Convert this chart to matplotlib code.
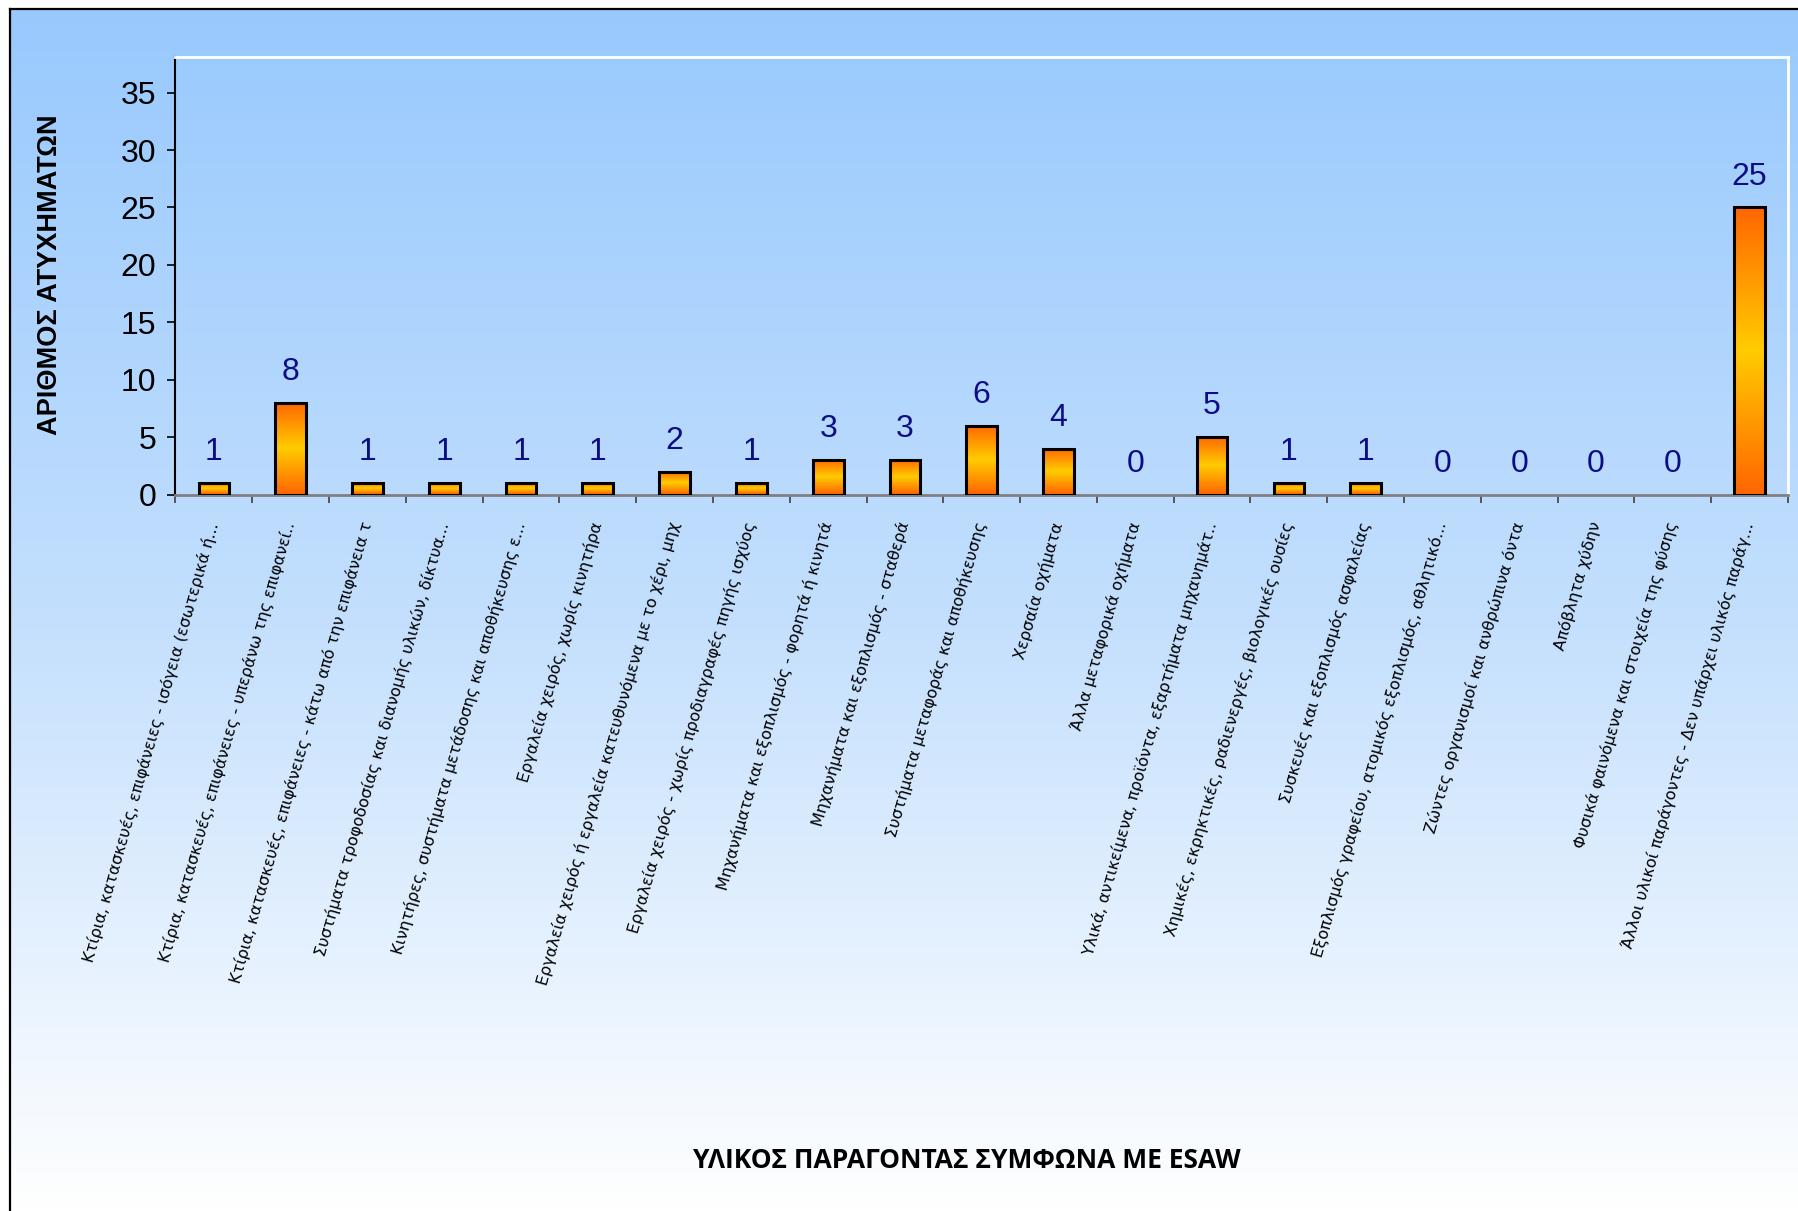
import numpy as np
import matplotlib
matplotlib.use("Agg")
import matplotlib.pyplot as plt
from matplotlib.colors import LinearSegmentedColormap
from matplotlib.lines import Line2D

categories = [
    "Κτίρια, κατασκευές, επιφάνειες - ισόγεια (εσωτερικά ή...",
    "Κτίρια, κατασκευές, επιφάνειες - υπεράνω της επιφανεί..",
    "Κτίρια, κατασκευές, επιφάνειες - κάτω από την επιφάνεια τ",
    "Συστήματα τροφοδοσίας και διανομής υλικών, δίκτυα...",
    "Κινητήρες, συστήματα μετάδοσης και αποθήκευσης ε...",
    "Εργαλεία χειρός, χωρίς κινητήρα",
    "Εργαλεία χειρός ή εργαλεία κατευθυνόμενα με το χέρι, μηχ",
    "Εργαλεία χειρός - χωρίς προδιαγραφές πηγής ισχύος",
    "Μηχανήματα και εξοπλισμός - φορητά ή κινητά",
    "Μηχανήματα και εξοπλισμός - σταθερά",
    "Συστήματα μεταφοράς και αποθήκευσης",
    "Χερσαία οχήματα",
    "Άλλα μεταφορικά οχήματα",
    "Υλικά, αντικείμενα, προϊόντα, εξαρτήματα μηχανημάτ..",
    "Χημικές, εκρηκτικές, ραδιενεργές, βιολογικές ουσίες",
    "Συσκευές και εξοπλισμός ασφαλείας",
    "Εξοπλισμός γραφείου, ατομικός εξοπλισμός, αθλητικό...",
    "Ζώντες οργανισμοί και ανθρώπινα όντα",
    "Απόβλητα χύδην",
    "Φυσικά φαινόμενα και στοιχεία της φύσης",
    "Άλλοι υλικοί παράγοντες - Δεν υπάρχει υλικός παράγ...",
]
accidents = [1, 8, 1, 1, 1, 1, 2, 1, 3, 3, 6, 4, 0, 5, 1, 1, 0, 0, 0, 0, 25]
y_ticks = [0, 5, 10, 15, 20, 25, 30, 35]

W, H = 1799, 1211
fig = plt.figure(figsize=(W / 100, H / 100), dpi=100, facecolor="white")

# background gradient inside the frame
bg = fig.add_axes([10 / W, 0, 1 - 10 / W, 1 - 9 / H], zorder=-10)
bg_cmap = LinearSegmentedColormap.from_list("bg", ["#98c9fd", "#c3dffd", "#ffffff"])
bg.imshow(np.linspace(0, 1, 256).reshape(-1, 1), cmap=bg_cmap, aspect="auto",
          extent=(0, 1, 0, 1), origin="upper")
bg.set_axis_off()
fig.add_artist(Line2D([10 / W, 10 / W], [0, 1 - 9 / H], color="black", lw=1.6,
                      transform=fig.transFigure))
fig.add_artist(Line2D([10 / W, 1], [1 - 9 / H, 1 - 9 / H], color="black", lw=1.6,
                      transform=fig.transFigure))

ax = fig.add_axes([175.5 / W, 1 - 494.5 / H, (1788 - 175.5) / W, (494.5 - 57) / H])
ax.patch.set_alpha(0)

x = np.arange(len(categories))
bar_w = 0.40
bars = ax.bar(x, accidents, width=bar_w, facecolor="none", edgecolor="black",
              linewidth=2.2, zorder=3)

bar_cmap = LinearSegmentedColormap.from_list("bar", ["#ff6600", "#ffcc00", "#ff6600"])
grad = np.linspace(0, 1, 200).reshape(-1, 1)
for rect, v in zip(bars, accidents):
    if v == 0:
        rect.set_visible(False)
        continue
    x0 = rect.get_x()
    ax.imshow(grad, cmap=bar_cmap, aspect="auto", origin="lower",
              extent=(x0, x0 + bar_w, 0, v), zorder=2)

for xi, v in zip(x, accidents):
    ax.annotate(str(v), (xi, v), xytext=(0, 16.5), textcoords="offset points",
                ha="center", va="baseline", fontsize=23, color="#0d0d85",
                family="Liberation Sans")

ax.set_xlim(-0.5, len(categories) - 0.5)
ax.set_ylim(0, 38.1)

ax.set_yticks(y_ticks)
ax.set_yticklabels([str(t) for t in y_ticks], fontsize=23, family="Liberation Sans")
ax.tick_params(axis="y", direction="out", length=6, width=1.2, pad=8, color="black")

ax.set_xticks(x)
ax.set_xticklabels(categories, rotation=74, ha="right", va="center",
                   rotation_mode="anchor", fontsize=11.5, family="DejaVu Sans")
ax.set_xticks(np.arange(len(categories) + 1) - 0.5, minor=True)
ax.tick_params(axis="x", which="major", length=0, pad=20)
ax.tick_params(axis="x", which="minor", direction="out", length=6, width=1.2,
               color="#404040")

ax.spines["left"].set_color("black")
ax.spines["left"].set_linewidth(1.5)
ax.spines["bottom"].set_color("#808080")
ax.spines["bottom"].set_linewidth(2)
for s in ("top", "right"):
    ax.spines[s].set_color("white")
    ax.spines[s].set_linewidth(2)

fig.text(50 / W, 1 - 275 / H, "ΑΡΙΘΜΟΣ ΑΤΥΧΗΜΑΤΩΝ", rotation=90, ha="center",
         va="center", fontsize=19.5, fontweight="bold", family="Liberation Sans")
fig.text(967 / W, 1 - 1161 / H, "ΥΛΙΚΟΣ ΠΑΡΑΓΟΝΤΑΣ ΣΥΜΦΩΝΑ ΜΕ ESAW", ha="center",
         va="center", fontsize=19, fontweight="bold", family="Open Sans")

fig.savefig("out.png", dpi=100, facecolor="white")
